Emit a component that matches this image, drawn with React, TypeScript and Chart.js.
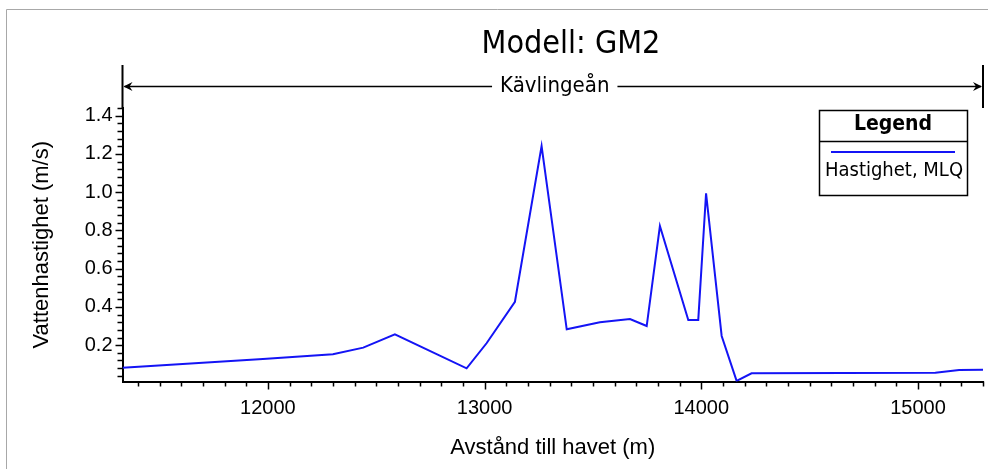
import React, { useEffect, useRef } from "react";
import { Chart, registerables } from "chart.js";

Chart.register(...registerables);

// ---- data ----
const distances = [11329, 11977, 12300, 12440, 12586, 12917, 13009, 13140, 13263, 13379, 13532, 13671, 13748, 13809, 13940, 13986, 14022, 14094, 14163, 14232, 15080, 15190, 15300];
const velocities = [0.082, 0.127, 0.152, 0.187, 0.257, 0.079, 0.21, 0.427, 1.241, 0.283, 0.32, 0.337, 0.3, 0.823, 0.332, 0.332, 0.994, 0.248, 0.013, 0.053, 0.056, 0.07, 0.071];
const seriesLabel = "Hastighet, MLQ";
const xTickValues = [12000, 13000, 14000, 15000];
const yTickValues = [0.2, 0.4, 0.6, 0.8, 1.0, 1.2, 1.4];
const xMin = 11329;
const xMax = 15300;
const yMin = 0.01;
const yMax = 1.44;
const xMinorStep = 100;
const yMinorStep = 0.04;
const chartTitle = "Modell: GM2";
const reachLabel = "Kävlingeån";
const legendTitle = "Legend";
const xTitle = "Avstånd till havet (m)";
const yTitle = "Vattenhastighet (m/s)";

const LINE_COLOR = "#1414f5";
const AXIS_FONT = "'Liberation Sans', Arial, sans-serif";
const DECOR_FONT = "'DejaVu Sans Condensed', 'DejaVu Sans', sans-serif";

const decorPlugin = {
  id: "decor",
  beforeDraw(chart: any) {
    const { ctx, width, height } = chart;
    ctx.save();
    ctx.fillStyle = "#ffffff";
    ctx.fillRect(0, 0, width, height);
    ctx.strokeStyle = "#a8a8a8";
    ctx.lineWidth = 1;
    ctx.beginPath();
    ctx.moveTo(6.5, height);
    ctx.lineTo(6.5, 9.5);
    ctx.lineTo(width, 9.5);
    ctx.stroke();
    ctx.restore();
  },
  afterDraw(chart: any) {
    const { ctx, chartArea: ca, scales } = chart;
    const x = scales.x;
    const y = scales.y;
    ctx.save();
    ctx.strokeStyle = "#000";
    ctx.lineWidth = 1.5;
    // y ticks
    const nY = Math.round(yMax / yMinorStep);
    for (let k = 1; k <= nY; k++) {
      const v = k * yMinorStep;
      if (v < yMin - 1e-9 || v > yMax + 1e-9) continue;
      const major = yTickValues.some((t) => Math.abs(t - v) < 1e-6);
      const py = Math.round(y.getPixelForValue(v)) + 0.5;
      ctx.beginPath();
      ctx.moveTo(ca.left - (major ? 7 : 5), py);
      ctx.lineTo(ca.left, py);
      ctx.stroke();
    }
    // x ticks
    for (let v = Math.ceil(xMin / xMinorStep) * xMinorStep; v <= xMax; v += xMinorStep) {
      const major = xTickValues.includes(v);
      const px = Math.round(x.getPixelForValue(v)) + 0.5;
      ctx.beginPath();
      ctx.moveTo(px, ca.bottom);
      ctx.lineTo(px, ca.bottom + (major ? 8 : 5));
      ctx.stroke();
    }

    // title
    ctx.fillStyle = "#000";
    ctx.font = `32px ${DECOR_FONT}`;
    ctx.textAlign = "center";
    ctx.textBaseline = "middle";
    ctx.fillText(chartTitle, 571, 45);

    // reach bracket
    const bx0 = ca.left;
    const bx1 = ca.right;
    const by = 86.5;
    ctx.lineWidth = 2;
    ctx.beginPath();
    ctx.moveTo(bx0, 65);
    ctx.lineTo(bx0, ca.top);
    ctx.moveTo(bx1, 65);
    ctx.lineTo(bx1, ca.top);
    ctx.stroke();
    ctx.font = `22px ${DECOR_FONT}`;
    const cx = (bx0 + bx1) / 2 + 2;
    const tw = ctx.measureText(reachLabel).width;
    ctx.fillText(reachLabel, cx, by);
    ctx.lineWidth = 1.5;
    ctx.beginPath();
    ctx.moveTo(bx0 + 2, by);
    ctx.lineTo(cx - tw / 2 - 8, by);
    ctx.moveTo(cx + tw / 2 + 8, by);
    ctx.lineTo(bx1 - 2, by);
    ctx.stroke();
    ctx.beginPath();
    ctx.moveTo(bx0 + 1, by);
    ctx.lineTo(bx0 + 10, by - 4.5);
    ctx.lineTo(bx0 + 7, by);
    ctx.lineTo(bx0 + 10, by + 4.5);
    ctx.closePath();
    ctx.moveTo(bx1 - 1, by);
    ctx.lineTo(bx1 - 10, by - 4.5);
    ctx.lineTo(bx1 - 7, by);
    ctx.lineTo(bx1 - 10, by + 4.5);
    ctx.closePath();
    ctx.fill();

    // legend box
    const lx = ca.right - 164;
    const ly = ca.top + 2;
    const lw = 148;
    const lh = 85;
    ctx.lineWidth = 1.5;
    ctx.strokeRect(lx + 0.5, ly + 0.5, lw, lh);
    ctx.beginPath();
    ctx.moveTo(lx, ly + 31.5);
    ctx.lineTo(lx + lw, ly + 31.5);
    ctx.stroke();
    ctx.font = `bold 21px ${DECOR_FONT}`;
    ctx.fillText(legendTitle, lx + lw / 2, ly + 15);
    ctx.strokeStyle = LINE_COLOR;
    ctx.lineWidth = 2;
    ctx.beginPath();
    ctx.moveTo(lx + 12, ly + 42);
    ctx.lineTo(lx + lw - 12, ly + 42);
    ctx.stroke();
    ctx.font = `20px ${DECOR_FONT}`;
    ctx.fillText(chart.data.datasets[0].label, lx + lw / 2 + 1, ly + 61);
    ctx.restore();
  },
};

export default function App() {
  const ref = useRef<HTMLCanvasElement | null>(null);
  useEffect(() => {
    if (!ref.current) return;
    const chart = new Chart(ref.current, {
      type: "line",
      data: {
        datasets: [
          {
            label: seriesLabel,
            data: distances.map((d, i) => ({ x: d, y: velocities[i] })),
            borderColor: LINE_COLOR,
            borderWidth: 2,
            pointRadius: 0,
            tension: 0,
            fill: false,
          },
        ],
      },
      options: {
        animation: false,
        responsive: false,
        layout: { padding: { top: 108, right: 5, left: 0, bottom: 0 } },
        plugins: {
          legend: { display: false },
          title: { display: false },
          tooltip: { enabled: false },
        },
        scales: {
          x: {
            type: "linear",
            position: "bottom",
            min: xMin,
            max: xMax,
            afterFit: (s: any) => {
              s.height = 87.5;
            },
            afterBuildTicks: (s: any) => {
              s.ticks = xTickValues.map((v) => ({ value: v }));
            },
            grid: { display: false, drawTicks: false },
            border: { display: true, color: "#000", width: 2 },
            ticks: {
              padding: 15,
              color: "#000",
              maxRotation: 0,
              autoSkip: false,
              font: { family: AXIS_FONT, size: 20 },
              callback: (v: any) => String(v),
            },
            title: {
              display: true,
              text: xTitle,
              color: "#000",
              font: { family: AXIS_FONT, size: 22 },
              padding: { top: 0, bottom: 8 },
            },
          },
          y: {
            type: "linear",
            min: yMin,
            max: yMax,
            afterFit: (s: any) => {
              s.width = 122.5;
            },
            afterBuildTicks: (s: any) => {
              s.ticks = yTickValues.map((v) => ({ value: v }));
            },
            grid: { display: false, drawTicks: false },
            border: { display: true, color: "#000", width: 2 },
            ticks: {
              padding: 10,
              color: "#000",
              autoSkip: false,
              font: { family: AXIS_FONT, size: 20 },
              callback: (v: any) => Number(v).toFixed(1),
            },
            title: {
              display: true,
              text: yTitle,
              color: "#000",
              font: { family: AXIS_FONT, size: 22 },
              padding: { top: 29, bottom: 0 },
            },
          },
        },
      },
      plugins: [decorPlugin],
    } as any);
    return () => chart.destroy();
  }, []);
  return (
    <div style={{ position: "fixed", left: 0, top: 0, width: 988, height: 469, background: "#fff" }}>
      <canvas ref={ref} width={988} height={469} style={{ display: "block" }} />
    </div>
  );
}
